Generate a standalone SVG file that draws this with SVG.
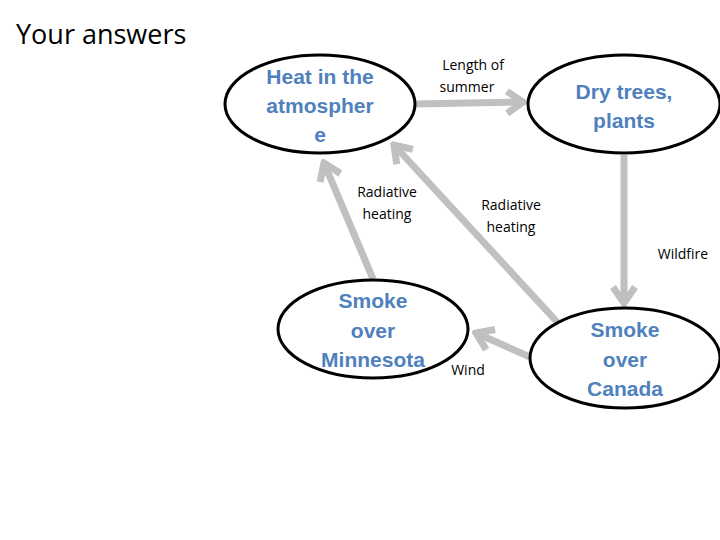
<svg xmlns="http://www.w3.org/2000/svg" width="720" height="540" viewBox="0 0 720 540">
<style>
.n{fill:#fff;stroke:#000;stroke-width:3}
.t{font-family:"Liberation Sans",Arial,sans-serif;font-weight:bold;font-size:21px;fill:#4f81bd;text-anchor:middle}
.l{font-family:"Open Sans","Liberation Sans",sans-serif;font-size:14px;fill:#000;text-anchor:middle}
.c{stroke:#c0c0c0;stroke-width:7;fill:none;marker-end:url(#ah)}
</style>
<defs><marker id="ah" markerUnits="userSpaceOnUse" viewBox="-20 -15 24 30" markerWidth="24" markerHeight="30" refX="0" refY="0" orient="auto"><polyline points="-16,-11 0,0 -16,11" fill="none" stroke="#c0c0c0" stroke-width="7"/></marker></defs>
<rect width="720" height="540" fill="#fff"/>
<text x="16" y="44" font-family="Open Sans,Liberation Sans,sans-serif" font-size="27" fill="#000">Your answers</text>
<g id="connectors">
<line class="c" x1="415" y1="104" x2="523" y2="102"/>
<line class="c" x1="624" y1="155" x2="624" y2="303"/>
<line class="c" x1="373" y1="279" x2="324" y2="163"/>
<line class="c" x1="558" y1="323" x2="394" y2="145"/>
<line class="c" x1="530" y1="357" x2="476" y2="333"/>
</g>
<g id="heat"><ellipse class="n" cx="320" cy="104" rx="95" ry="49"/><text class="t" x="320" y="84">Heat in the</text><text class="t" x="320" y="113">atmospher</text><text class="t" x="320" y="142">e</text></g>
<g id="dry"><ellipse class="n" cx="624" cy="104" rx="96" ry="49"/><text class="t" x="624" y="99">Dry trees,</text><text class="t" x="624" y="128">plants</text></g>
<g id="minn"><ellipse class="n" cx="373" cy="329" rx="95" ry="49"/><text class="t" x="373" y="308">Smoke</text><text class="t" x="373" y="338">over</text><text class="t" x="373" y="367">Minnesota</text></g>
<g id="canada"><ellipse class="n" cx="625" cy="358" rx="95" ry="50"/><text class="t" x="625" y="337">Smoke</text><text class="t" x="625" y="367">over</text><text class="t" x="625" y="396">Canada</text></g>
<g id="labels">
<text class="l" x="473" y="70">Length of</text><text class="l" x="467" y="92">summer</text>
<text class="l" x="387" y="197">Radiative</text><text class="l" x="387" y="219">heating</text>
<text class="l" x="511" y="210">Radiative</text><text class="l" x="511" y="232">heating</text>
<text class="l" x="683" y="259">Wildfire</text>
<text class="l" x="468" y="375">Wind</text>
</g>
</svg>
